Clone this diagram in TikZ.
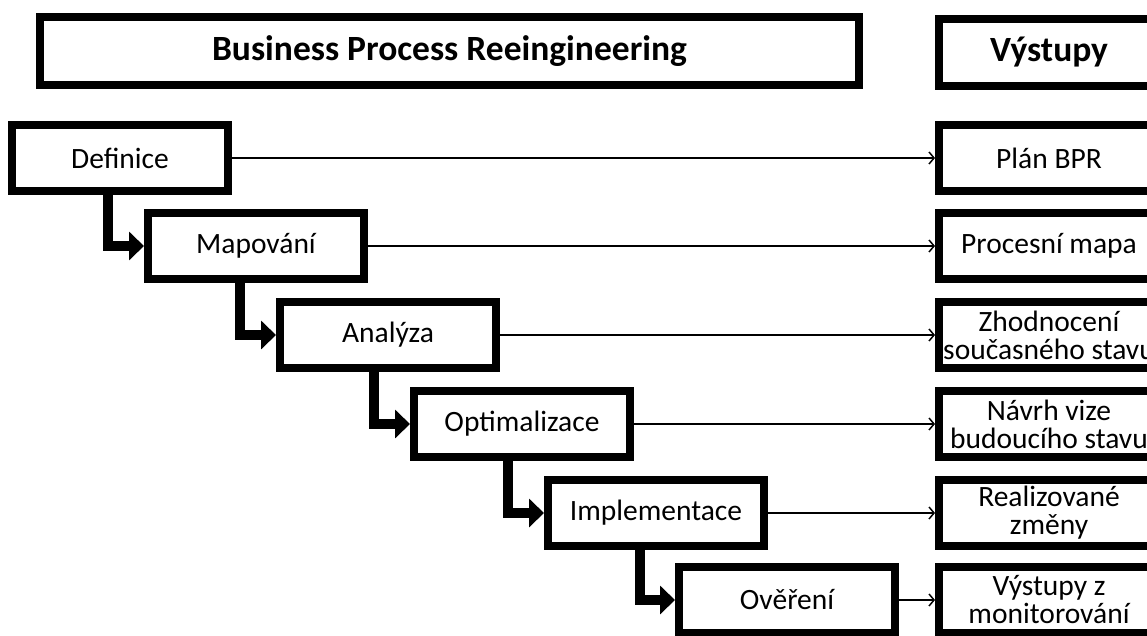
\documentclass[tikz,border=0pt]{standalone}
\usepackage{fontspec}
\setmainfont{Carlito}
\usetikzlibrary{arrows.meta}
\begin{document}
\begin{tikzpicture}[x=1pt,y=-1pt,
  box/.style={draw=black, line width=8pt, minimum width=216pt, minimum height=66pt,
    inner sep=0pt, align=center, fill=white, font=\fontsize{29.5}{28}\selectfont},
  outbox/.style={box, minimum width=220pt},
  head/.style={draw=black, line width=8pt, inner sep=0pt, fill=white,
    font=\bfseries\fontsize{35.5}{40}\selectfont},
  flow/.style={line width=10pt, line join=miter, -{Triangle[length=15pt,width=28pt]}},
  link/.style={line width=1.5pt, -{Straight Barb[length=5pt,width=12pt]}}]
\clip (0,0) rectangle (1147,635);
\fill[white] (0,0) rectangle (1147,635);

\node[head, minimum width=819pt, minimum height=68pt] (bpr) at (449.5,51) {Business Process Reeingineering};
\node[head, minimum width=220pt, minimum height=67pt] (vys) at (1049,52.5) {Výstupy};

\node[box] (def) at (120,158) {Definice};
\node[box] (map) at (256,246) {Mapování};
\node[box] (ana) at (388,335) {Analýza};
\node[box] (opt) at (522,424) {Optimalizace};
\node[box] (imp) at (656,513) {Implementace};
\node[box] (ove) at (787,600) {Ověření};

\node[outbox] (o1) at (1049,158) {Plán BPR};
\node[outbox] (o2) at (1049,246) {Procesní mapa};
\node[outbox] (o3) at (1049,335) {Zhodnocení\\současného stavu};
\node[outbox] (o4) at (1049,424) {Návrh vize\\budoucího stavu};
\node[outbox] (o5) at (1049,513) {Realizované\\změny};
\node[outbox] (o6) at (1049,600) {Výstupy z\\monitorování};

\draw[flow] ([xshift=-12pt]def.south) |- (map.west);
\draw[flow] ([xshift=-16pt]map.south) |- (ana.west);
\draw[flow] ([xshift=-14pt]ana.south) |- (opt.west);
\draw[flow] ([xshift=-14pt]opt.south) |- (imp.west);
\draw[flow] ([xshift=-16pt]imp.south) |- (ove.west);

\draw[link] (def.east) -- (o1.west);
\draw[link] (map.east) -- (o2.west);
\draw[link] (ana.east) -- (o3.west);
\draw[link] (opt.east) -- (o4.west);
\draw[link] (imp.east) -- (o5.west);
\draw[link] (ove.east) -- (o6.west);
\end{tikzpicture}
\end{document}
